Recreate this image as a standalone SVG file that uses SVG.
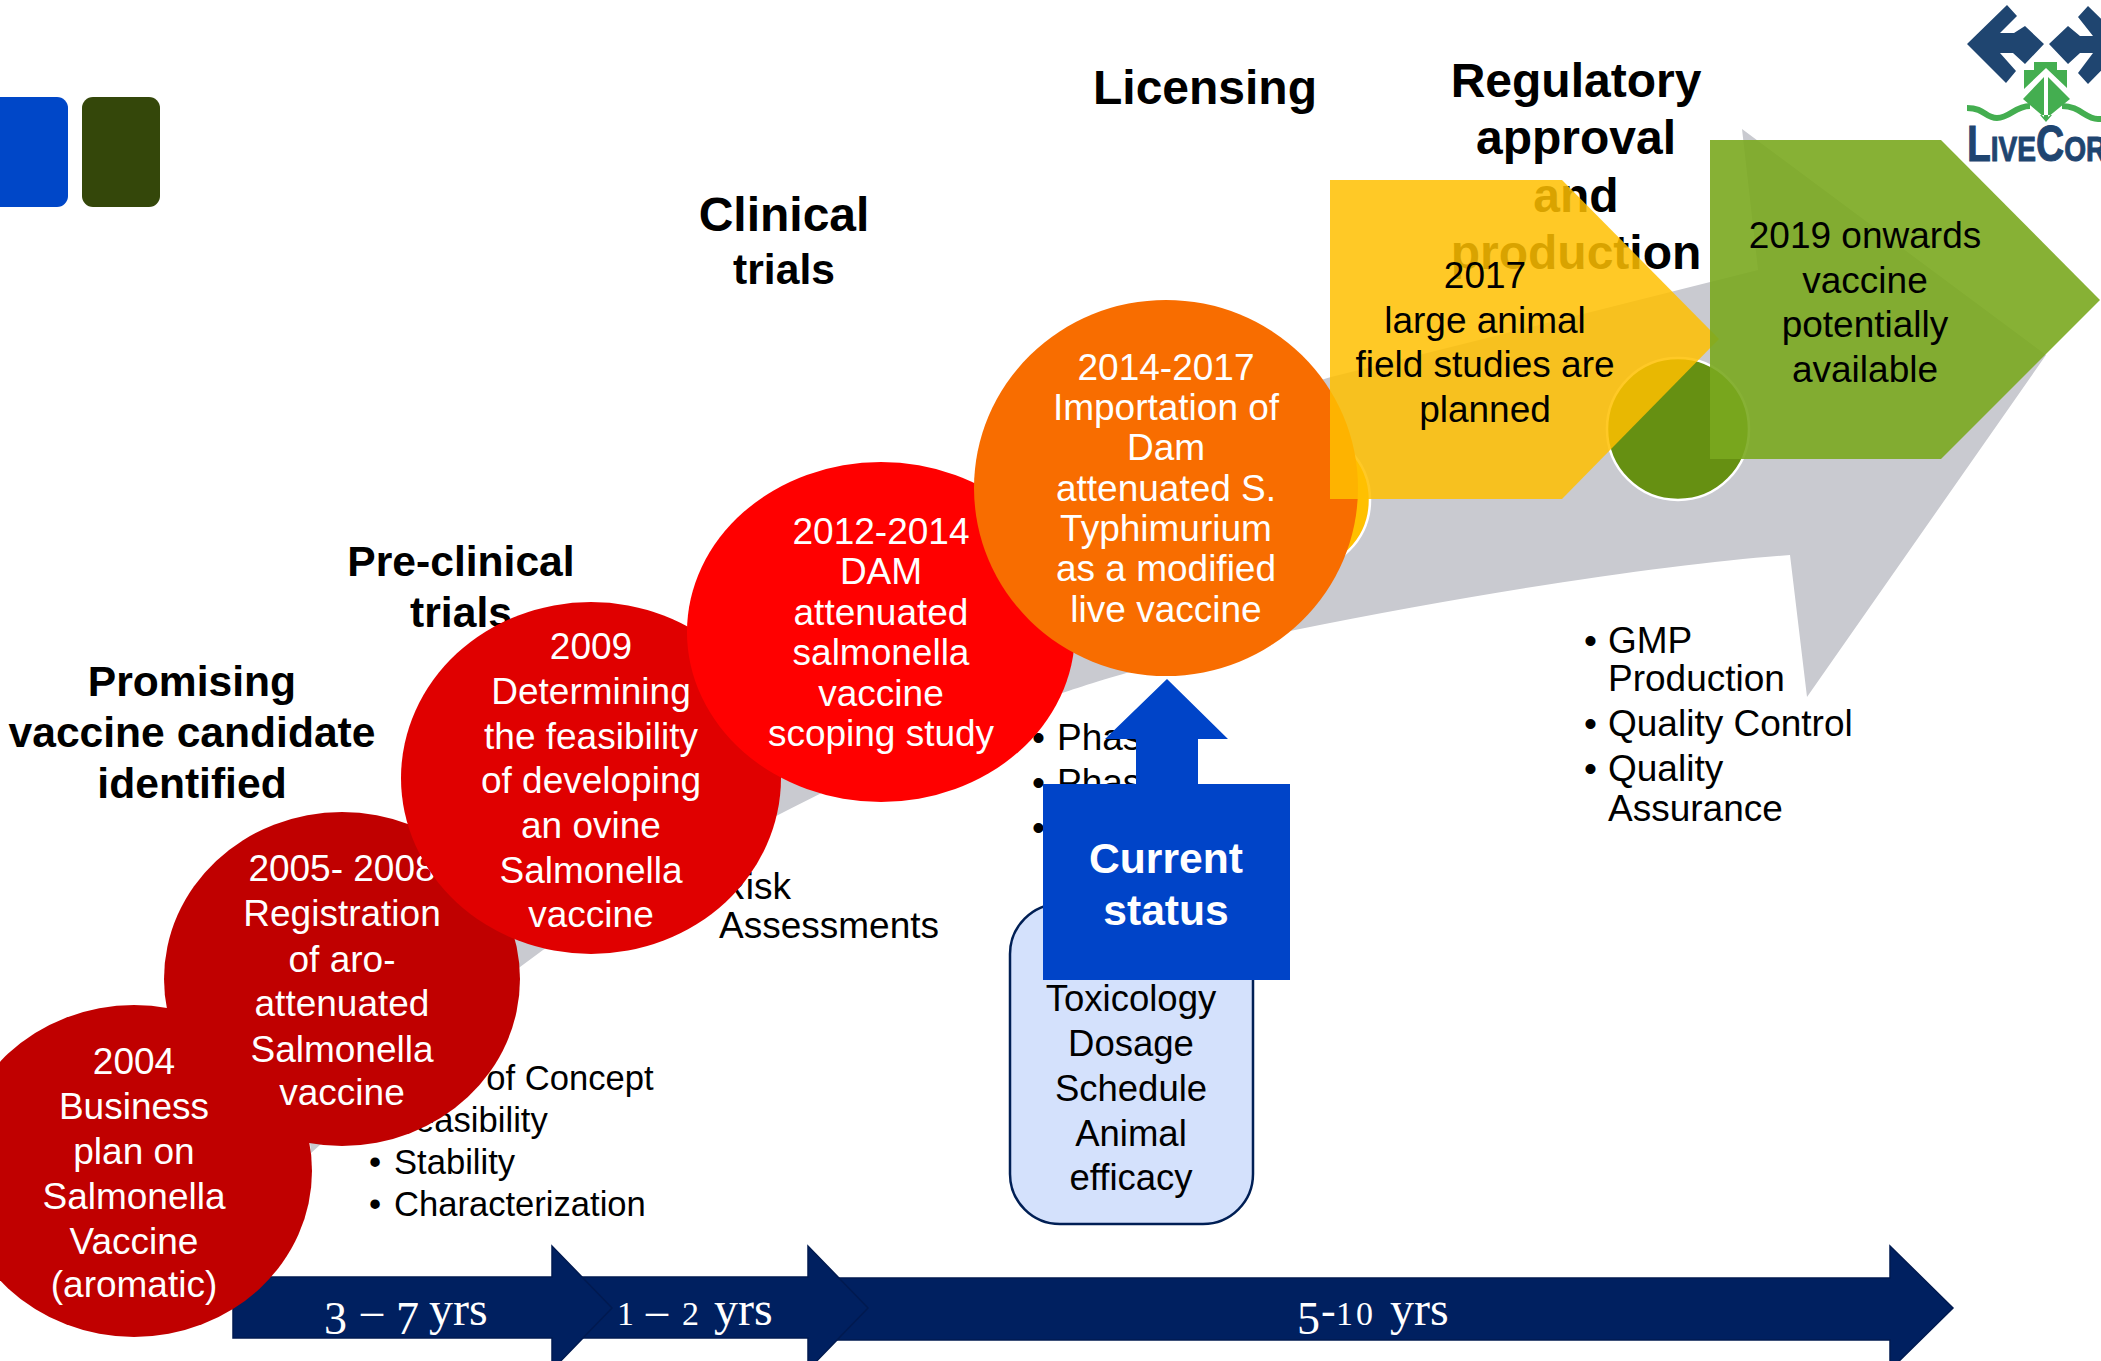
<svg xmlns="http://www.w3.org/2000/svg" width="2101" height="1361" viewBox="0 0 2101 1361">
<style>
text{font-family:"Liberation Sans",Arial,sans-serif;fill:#000}
.w{fill:#fff;font-size:37px;text-anchor:middle}
.k{font-size:37px;text-anchor:middle}
.b{font-size:37px}
.s{font-size:34.6px}
.h{font-weight:bold;font-size:42.6px;text-anchor:middle}
.h2{font-weight:bold;font-size:48px;text-anchor:middle}
.t{font-family:"Liberation Serif",serif;fill:#fff;font-size:48px}
.lo{font-size:34px}
.hi{font-size:46px}
.dash{font-size:44px}
.arr{fill:#002060;stroke:#001a50;stroke-width:1.5}
.ring{stroke:#fff;stroke-width:2.5}
.st{font-weight:bold;font-size:42.6px;text-anchor:middle;fill:#fff}
.tx{font-size:36.5px;text-anchor:middle}
</style>
<rect width="2101" height="1361" fill="#fff"/>
<g id="square-blue"><rect x="-20" y="97" width="88" height="110" rx="11" fill="#0047C8"/></g>
<g id="square-green"><rect x="82" y="97" width="78" height="110" rx="11" fill="#34470A"/></g>

<g id="connectors">
<path d="M310,1143 C500,830 900,500 1331,377 L1758,270 L1742,129 L2046,355 L1807,697 L1790,555 C1690,562 1500,588 1290,631 C1200,650 1100,680 1062,693 C900,745 700,850 543,950 L520,967 L311,1153 Z" fill="#C9CAD0"/>
<path class="arr" d="M825,1278 H1890 V1246 L1953,1308 L1890,1370 V1340 H825 Z"/>
<path class="arr" d="M570,1277 H808 V1246 L868,1308 L808,1370 V1338 H570 Z"/>
<path class="arr" d="M233,1277 H552 V1246 L612,1308 L552,1370 V1338 H233 Z"/>
</g>
<g id="duration-labels">
<text class="t" y="1325"><tspan class="hi" x="324" dy="9">3</tspan><tspan class="dash" x="361" dy="-9">–</tspan><tspan class="hi" x="396" dy="9">7</tspan><tspan x="429" dy="-9">yrs</tspan></text>
<text class="t" y="1325"><tspan class="lo" x="617">1</tspan><tspan class="dash" x="646">–</tspan><tspan class="lo" x="682">2</tspan><tspan x="714">yrs</tspan></text>
<text class="t" y="1325"><tspan class="hi" x="1297" dy="9">5</tspan><tspan class="dash" x="1321" dy="-9">-</tspan><tspan class="lo" x="1336">1</tspan><tspan class="lo" x="1356">0</tspan><tspan x="1390">yrs</tspan></text>
</g>

<g id="headings">
<text class="h" x="192" y="696">Promising</text>
<text class="h" x="192" y="747">vaccine candidate</text>
<text class="h" x="192" y="798">identified</text>
<text class="h" x="461" y="576">Pre-clinical</text>
<text class="h" x="461" y="627">trials</text>
<text class="h2" x="784" y="231">Clinical</text>
<text class="h" x="784" y="284">trials</text>
<text class="h2" x="1205" y="104">Licensing</text>
<text class="h2" x="1576" y="97">Regulatory</text>
<text class="h2" x="1576" y="154">approval</text>
<text class="h2" x="1576" y="212">and</text>
<text class="h2" x="1576" y="269">production</text>
</g>

<g id="list-preclinical">
<text class="s" x="394" y="1090">Proof of Concept</text>
<text class="s" x="394" y="1132">Feasibility</text>
<text class="s" x="369" y="1174">•</text><text class="s" x="394" y="1174">Stability</text>
<text class="s" x="369" y="1216">•</text><text class="s" x="394" y="1216">Characterization</text>
</g>
<g id="list-risk">
<text class="b" x="719" y="899">Risk</text>
<text class="b" x="719" y="938">Assessments</text>
</g>
<g id="list-phase">
<text class="b" x="1032" y="750">•</text><text class="b" x="1057" y="750">Phase</text>
<text class="b" x="1032" y="795">•</text><text class="b" x="1057" y="795">Phase</text>
<text class="b" x="1032" y="840">•</text>
</g>
<g id="list-production">
<text class="b" x="1584" y="653">•</text><text class="b" x="1608" y="653">GMP</text>
<text class="b" x="1608" y="691">Production</text>
<text class="b" x="1584" y="736">•</text><text class="b" x="1608" y="736">Quality Control</text>
<text class="b" x="1584" y="781">•</text><text class="b" x="1608" y="781">Quality</text>
<text class="b" x="1608" y="821">Assurance</text>
</g>

<g id="node-tests">
<rect x="1010" y="904" width="243" height="320" rx="50" fill="#D4E1FC" stroke="#001F55" stroke-width="2.5"/>
<text class="tx" x="1131" y="1011">Toxicology</text>
<text class="tx" x="1131" y="1056">Dosage</text>
<text class="tx" x="1131" y="1101">Schedule</text>
<text class="tx" x="1131" y="1146">Animal</text>
<text class="tx" x="1131" y="1190">efficacy</text>
</g>

<g id="node-current-status">
<path d="M1167,679 L1228,739 H1198 V784 H1290 V980 H1043 V784 H1136 V739 H1105 Z" fill="#0044C8"/>
<text class="st" x="1166" y="873">Current</text>
<text class="st" x="1166" y="925">status</text>
</g>

<g id="node-2004">
<ellipse cx="134" cy="1171" rx="178" ry="166" fill="#C00000"/>
<text class="w" x="134" y="1074">2004</text><text class="w" x="134" y="1119">Business</text><text class="w" x="134" y="1164">plan on</text><text class="w" x="134" y="1209">Salmonella</text><text class="w" x="134" y="1254">Vaccine</text><text class="w" x="134" y="1297">(aromatic)</text>
</g>
<g id="node-2005">
<ellipse cx="342" cy="979" rx="178" ry="167" fill="#C00000"/>
<text class="w" x="342" y="881">2005- 2008</text><text class="w" x="342" y="926">Registration</text><text class="w" x="342" y="972">of aro-</text><text class="w" x="342" y="1016">attenuated</text><text class="w" x="342" y="1062">Salmonella</text><text class="w" x="342" y="1105">vaccine</text>
</g>
<g id="node-2009">
<ellipse cx="591" cy="778" rx="190" ry="176" fill="#E00000"/>
<text class="w" x="591" y="659">2009</text><text class="w" x="591" y="704">Determining</text><text class="w" x="591" y="749">the feasibility</text><text class="w" x="591" y="793">of developing</text><text class="w" x="591" y="838">an ovine</text><text class="w" x="591" y="883">Salmonella</text><text class="w" x="591" y="927">vaccine</text>
</g>
<g id="node-2012">
<ellipse cx="881" cy="632" rx="194" ry="170" fill="#FF0000"/>
<text class="w" x="881" y="544">2012-2014</text><text class="w" x="881" y="584">DAM</text><text class="w" x="881" y="625">attenuated</text><text class="w" x="881" y="665">salmonella</text><text class="w" x="881" y="706">vaccine</text><text class="w" x="881" y="746">scoping study</text>
</g>
<g id="node-license-dot"><circle cx="1299" cy="500" r="71" fill="#FFC000" class="ring"/></g>
<g id="node-2014">
<ellipse cx="1166" cy="488" rx="192" ry="188" fill="#F86D00"/>
<text class="w" x="1166" y="380">2014-2017</text><text class="w" x="1166" y="420">Importation of</text><text class="w" x="1166" y="460">Dam</text><text class="w" x="1166" y="501">attenuated S.</text><text class="w" x="1166" y="541">Typhimurium</text><text class="w" x="1166" y="581">as a modified</text><text class="w" x="1166" y="622">live vaccine</text>
</g>
<g id="node-regulatory-dot"><circle cx="1678" cy="429" r="71" fill="#669012" class="ring"/></g>
<g id="node-2017">
<path d="M1330,180 H1562 L1719,339 L1562,499 H1330 Z" fill="#FFC000" fill-opacity=".85"/>
</g>
<g id="node-2019">
<path d="M1710,140 H1941 L2100,300 L1941,459 H1710 Z" fill="#7AA81F" fill-opacity=".9"/>
<text class="k" x="1865" y="248">2019 onwards</text><text class="k" x="1865" y="293">vaccine</text><text class="k" x="1865" y="337">potentially</text><text class="k" x="1865" y="382">available</text>
</g>
<g id="label-2017">
<text class="k" x="1485" y="288">2017</text><text class="k" x="1485" y="333">large animal</text><text class="k" x="1485" y="377">field studies are</text><text class="k" x="1485" y="422">planned</text>
</g>

<g id="logo">
<path fill="#1F4570" d="M1967,44 L2007,5 L2017,16 L2000,33 L2014,33 L2025,26 L2044,44 L2025,64 L2013,53 L2000,53 L2016,71 L2006,83 Z"/>
<path fill="#1F4570" d="M2049,44 L2068,26 L2080,36 L2093,36 L2078,17 L2088,6 L2127,44 L2088,84 L2078,73 L2093,53 L2080,53 L2068,64 Z"/>
<path fill="#44AE50" d="M2034,62 H2057 V70 H2067 V88 L2046,68 L2024,89 V70 H2034 Z"/>
<path fill="#44AE50" d="M2044,77 V117 L2023,99 Z M2048,77 L2070,99 L2048,117 Z M2040,115 L2046,122 L2052,115 Z"/>
<path fill="none" stroke="#44AE50" stroke-width="6" d="M1967,108 C1985,108 1985,118 1997,118 C2010,118 2015,106 2030,106 M2062,106 C2080,106 2085,119 2098,119 L2103,119"/>
<text transform="translate(1967,161) scale(.78,1)" style="font-weight:bold;font-size:50px;fill:#1F4570;stroke:#1F4570;stroke-width:1">L<tspan style="font-size:36px">IVE</tspan>C<tspan style="font-size:36px">OR</tspan></text>
</g>
</svg>
